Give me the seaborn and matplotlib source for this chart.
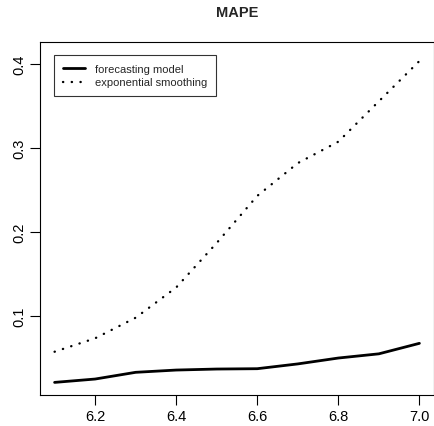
import pandas as pd
import numpy as np
import matplotlib
matplotlib.use("Agg")
import matplotlib.pyplot as plt
import seaborn as sns

# values
x_vals = [6.1, 6.2, 6.3, 6.4, 6.5, 6.6, 6.7, 6.8, 6.9, 7.0]
forecast_mape = [0.021, 0.025, 0.033, 0.0357, 0.0369, 0.0373, 0.043, 0.050, 0.055, 0.0675]
expsmooth_mape = [0.0575, 0.0735, 0.098, 0.134, 0.187, 0.243, 0.282, 0.3075, 0.3556, 0.4035]
x_ticks = [6.2, 6.4, 6.6, 6.8, 7.0]
y_ticks = [0.1, 0.2, 0.3, 0.4]

df = pd.DataFrame({"x": x_vals, "forecast": forecast_mape, "expsmooth": expsmooth_mape})

sns.set_style("ticks")
plt.rcParams["font.family"] = ["Liberation Sans", "DejaVu Sans"]

fig = plt.figure(figsize=(4.34, 4.27), dpi=100)
ax = fig.add_axes([40 / 434, 31 / 427, 394 / 434, 353.3 / 427])

sns.lineplot(data=df, x="x", y="forecast", color="black", linewidth=2.0,
             solid_capstyle="round", solid_joinstyle="round", ax=ax,
             label="forecasting model")
sns.lineplot(data=df, x="x", y="expsmooth", color="black", linewidth=1.7,
             linestyle=(0, (0.1, 3.6)), dash_capstyle="round", ax=ax,
             label="exponential smoothing")

ax.set_xlim(6.064, 7.036)
ax.set_ylim(0.0060, 0.4265)
ax.set_xticks(x_ticks)
ax.set_xticklabels([f"{v:.1f}" for v in x_ticks])
ax.set_yticks(y_ticks)
ax.set_yticklabels([f"{v:.1f}" for v in y_ticks], rotation=90, va="center")
ax.tick_params(axis="both", direction="out", length=7, width=0.8, colors="black",
               labelsize=10.5, pad=3)
ax.set_xlabel("")
ax.set_ylabel("")
for sp in ax.spines.values():
    sp.set_visible(True)
    sp.set_color("black")
    sp.set_linewidth(0.8)

leg = ax.legend(loc="upper left", bbox_to_anchor=(14 / 394, 1 - 13 / 353.3),
                fontsize=8.0, frameon=True, fancybox=False, edgecolor="black",
                handlelength=1.95, handletextpad=0.95, borderpad=0.8, labelspacing=0.35,
                borderaxespad=0)
leg.get_frame().set_linewidth(0.8)

fig.text(237 / 434, 1 - 13 / 427, "MAPE", ha="center", va="center",
         fontsize=10.5, fontweight="bold")

fig.savefig("out.png", dpi=100)
